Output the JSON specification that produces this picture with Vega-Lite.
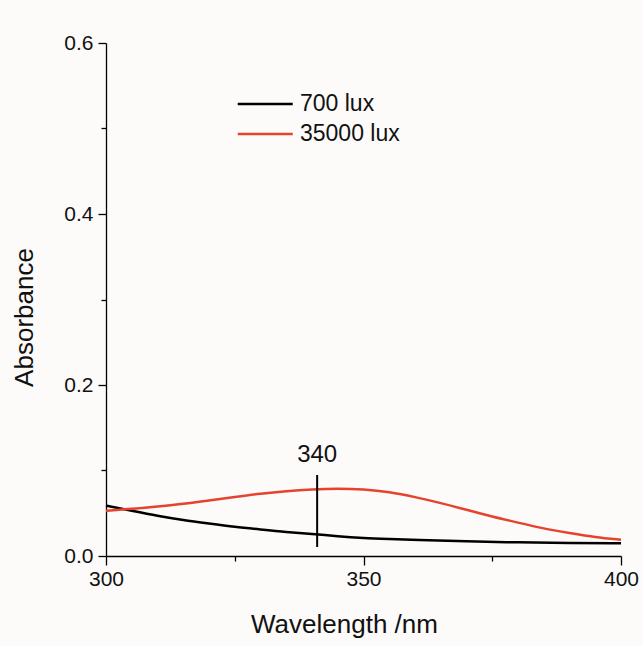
{
  "$schema": "https://vega.github.io/schema/vega-lite/v6.json",
  "width": 515,
  "height": 513,
  "autosize": "none",
  "padding": {"left": 106, "top": 43, "right": 22, "bottom": 90},
  "background": "#fcfbfa",
  "config": {
    "view": {"stroke": null},
    "font": "Liberation Sans",
    "axis": {"domainColor": "#000", "tickColor": "#000", "labelColor": "#111", "titleColor": "#111", "grid": false, "labelFont": "Liberation Sans", "titleFont": "Liberation Sans", "titleFontWeight": "normal", "domainWidth": 1.3, "tickWidth": 1.3}
  },
  "datasets": {
    "spectra": [
      {"wl": 300, "abs": 0.059, "series": "700 lux"},
      {"wl": 305, "abs": 0.053, "series": "700 lux"},
      {"wl": 310, "abs": 0.047, "series": "700 lux"},
      {"wl": 315, "abs": 0.042, "series": "700 lux"},
      {"wl": 320, "abs": 0.038, "series": "700 lux"},
      {"wl": 325, "abs": 0.034, "series": "700 lux"},
      {"wl": 330, "abs": 0.031, "series": "700 lux"},
      {"wl": 335, "abs": 0.028, "series": "700 lux"},
      {"wl": 340, "abs": 0.026, "series": "700 lux"},
      {"wl": 345, "abs": 0.023, "series": "700 lux"},
      {"wl": 350, "abs": 0.021, "series": "700 lux"},
      {"wl": 355, "abs": 0.020, "series": "700 lux"},
      {"wl": 360, "abs": 0.019, "series": "700 lux"},
      {"wl": 370, "abs": 0.017, "series": "700 lux"},
      {"wl": 380, "abs": 0.016, "series": "700 lux"},
      {"wl": 390, "abs": 0.015, "series": "700 lux"},
      {"wl": 400, "abs": 0.015, "series": "700 lux"},
      {"wl": 300, "abs": 0.053, "series": "35000 lux"},
      {"wl": 305, "abs": 0.055, "series": "35000 lux"},
      {"wl": 310, "abs": 0.058, "series": "35000 lux"},
      {"wl": 315, "abs": 0.061, "series": "35000 lux"},
      {"wl": 320, "abs": 0.065, "series": "35000 lux"},
      {"wl": 325, "abs": 0.069, "series": "35000 lux"},
      {"wl": 330, "abs": 0.073, "series": "35000 lux"},
      {"wl": 335, "abs": 0.076, "series": "35000 lux"},
      {"wl": 340, "abs": 0.078, "series": "35000 lux"},
      {"wl": 345, "abs": 0.079, "series": "35000 lux"},
      {"wl": 350, "abs": 0.078, "series": "35000 lux"},
      {"wl": 355, "abs": 0.075, "series": "35000 lux"},
      {"wl": 360, "abs": 0.069, "series": "35000 lux"},
      {"wl": 365, "abs": 0.062, "series": "35000 lux"},
      {"wl": 370, "abs": 0.054, "series": "35000 lux"},
      {"wl": 375, "abs": 0.046, "series": "35000 lux"},
      {"wl": 380, "abs": 0.039, "series": "35000 lux"},
      {"wl": 385, "abs": 0.032, "series": "35000 lux"},
      {"wl": 390, "abs": 0.027, "series": "35000 lux"},
      {"wl": 395, "abs": 0.022, "series": "35000 lux"},
      {"wl": 400, "abs": 0.019, "series": "35000 lux"}
    ],
    "marker": [{"wl": 341, "lo": 0.0105, "hi": 0.0947, "label": "340"}]
  },
  "layer": [
    {
      "data": {"name": "spectra"},
      "mark": {"type": "line", "strokeWidth": 2.5, "interpolate": "basis"},
      "encoding": {
        "x": {"field": "wl", "type": "quantitative", "scale": {"domain": [300, 400], "nice": false, "zero": false},
          "axis": {"title": "Wavelength /nm", "values": [300, 325, 350, 375, 400], "labelExpr": "datum.value % 50 == 0 ? datum.label : ''", "tickSize": {"condition": {"test": "datum.value % 50 != 0", "value": 5}, "value": 9}, "labelFontSize": 21, "titleFontSize": 26, "labelPadding": 3, "titlePadding": 22, "titleX": 238, "titleAlign": "center", "labelFlush": false}},
        "y": {"field": "abs", "type": "quantitative", "scale": {"domain": [0, 0.6], "nice": false},
          "axis": {"title": "Absorbance", "values": [0, 0.1, 0.2, 0.3, 0.4, 0.5, 0.6], "format": ".1f", "labelExpr": "round(datum.value*10) % 2 == 0 ? datum.label : ''", "tickSize": {"condition": {"test": "round(datum.value*10) % 2 != 0", "value": 5}, "value": 8}, "labelFontSize": 21, "titleFontSize": 26, "labelPadding": 5, "titlePadding": 26, "titleY": 274, "titleAlign": "center"}},
        "color": {"field": "series", "type": "nominal", "sort": ["700 lux", "35000 lux"],
          "scale": {"domain": ["700 lux", "35000 lux"], "range": ["#000000", "#e5432d"]},
          "legend": {"title": null, "orient": "none", "legendX": 158, "legendY": 46, "symbolType": "M-3,0H1", "symbolSize": 756, "symbolStrokeWidth": 2.5, "labelFontSize": 23, "labelFont": "Liberation Sans", "labelColor": "#111", "labelOffset": 6, "rowPadding": 3}}
      }
    },
    {
      "data": {"name": "marker"},
      "mark": {"type": "rule", "strokeWidth": 2, "color": "#000"},
      "encoding": {"x": {"field": "wl", "type": "quantitative"}, "y": {"field": "lo", "type": "quantitative"}, "y2": {"field": "hi"}}
    },
    {
      "data": {"name": "marker"},
      "mark": {"type": "text", "fontSize": 24, "baseline": "alphabetic", "dy": -13, "color": "#111", "font": "Liberation Sans"},
      "encoding": {"x": {"field": "wl", "type": "quantitative"}, "y": {"field": "hi", "type": "quantitative"}, "text": {"field": "label"}}
    }
  ]
}
